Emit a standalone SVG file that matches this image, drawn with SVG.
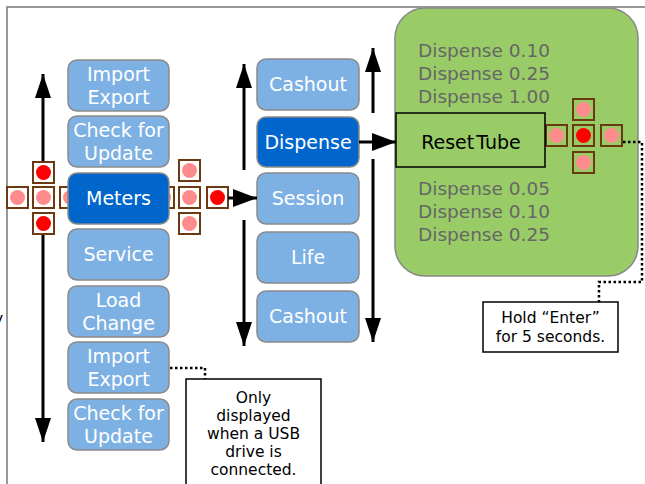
<svg xmlns="http://www.w3.org/2000/svg" width="645" height="484" viewBox="0 0 645 484">
<defs>
<style>
.box{fill:#7EB1E3;stroke:#8A8A8A;stroke-width:1.5}
.sel{fill:#0066CC;stroke:#8A8A8A;stroke-width:1.5}
.bt{font-family:"DejaVu Sans",sans-serif;font-size:19px;fill:#FFFFFF;text-anchor:middle}
.gt{font-family:"DejaVu Sans",sans-serif;font-size:18.5px;fill:#666666}
.nt{font-family:"DejaVu Sans",sans-serif;font-size:15.5px;fill:#000000;text-anchor:middle}
.sq{fill:none;stroke:#6B3A12;stroke-width:2}
.pk{fill:#FF8C8C}
.rd{fill:#FF0000}
.arr{stroke:#000;stroke-width:3;fill:none}
.dot{stroke:#000;stroke-width:2.5;fill:none;stroke-dasharray:2.5,2.5}
</style>
<marker id="ah" viewBox="0 0 24 16" refX="24" refY="8" markerWidth="24" markerHeight="16" markerUnits="userSpaceOnUse" orient="auto">
<path d="M0,0 L24,8 L0,16 z" fill="#000"/>
</marker>
<marker id="ahh" viewBox="0 0 24 18" refX="24" refY="9" markerWidth="24" markerHeight="18" markerUnits="userSpaceOnUse" orient="auto">
<path d="M0,0 L24,9 L0,18 z" fill="#000"/>
</marker>
</defs>
<rect width="645" height="484" fill="#FFFFFF"/>
<path d="M7,484 L7,7 L645,7" fill="none" stroke="#777" stroke-width="1.5"/>
<text x="-6" y="324" font-family="DejaVu Sans,sans-serif" font-size="15.5px" fill="#000">y</text>

<g id="reset-panel">
<rect x="395" y="8" width="243" height="268" rx="30" fill="#99CC66" stroke="#888" stroke-width="1.5"/>
<text class="gt" x="418" y="57">Dispense 0.10</text>
<text class="gt" x="418" y="80">Dispense 0.25</text>
<text class="gt" x="418" y="103">Dispense 1.00</text>
<text class="gt" x="418" y="195">Dispense 0.05</text>
<text class="gt" x="418" y="218">Dispense 0.10</text>
<text class="gt" x="418" y="241">Dispense 0.25</text>
</g>

<g id="dpad-left">
<rect class="sq" x="33" y="162" width="21" height="21"/><circle class="rd" cx="43.5" cy="172.5" r="7.5"/>
<rect class="sq" x="7" y="187" width="21" height="21"/><circle class="pk" cx="17.5" cy="197.5" r="7.5"/>
<rect class="sq" x="33" y="187" width="21" height="21"/><circle class="pk" cx="43.5" cy="197.5" r="7.5"/>
<rect class="sq" x="60" y="187" width="21" height="21"/><circle class="pk" cx="70.5" cy="197.5" r="7.5"/>
<rect class="sq" x="33" y="213" width="21" height="21"/><circle class="rd" cx="43.5" cy="223.5" r="7.5"/>
</g>

<g id="dpad-right">
<rect class="sq" x="179" y="160" width="21" height="21"/><circle class="pk" cx="189.5" cy="170.5" r="7.5"/>
<rect class="sq" x="153" y="187" width="21" height="21"/><circle class="pk" cx="163.5" cy="197.5" r="7.5"/>
<rect class="sq" x="179" y="187" width="21" height="21"/><circle class="pk" cx="189.5" cy="197.5" r="7.5"/>
<rect class="sq" x="207" y="187" width="21" height="21"/><circle class="rd" cx="217.5" cy="197.5" r="7.5"/>
<rect class="sq" x="179" y="213" width="21" height="21"/><circle class="pk" cx="189.5" cy="223.5" r="7.5"/>
</g>

<g id="dpad-green">
<rect class="sq" x="573" y="99" width="21" height="21"/><circle class="pk" cx="583.5" cy="109.5" r="7.5"/>
<rect class="sq" x="546" y="125" width="21" height="21"/><circle class="pk" cx="556.5" cy="135.5" r="7.5"/>
<rect class="sq" x="573" y="125" width="21" height="21"/><circle class="rd" cx="583.5" cy="135.5" r="7.5"/>
<rect class="sq" x="601" y="125" width="21" height="21"/><circle class="pk" cx="611.5" cy="135.5" r="7.5"/>
<rect class="sq" x="573" y="152" width="21" height="21"/><circle class="pk" cx="583.5" cy="162.5" r="7.5"/>
</g>

<g id="left-import-export"><rect class="box" x="68" y="60" width="101" height="51" rx="9"/><text class="bt" x="118.5" y="81">Import</text><text class="bt" x="118.5" y="104">Export</text></g>
<g id="left-check-update"><rect class="box" x="68" y="116" width="101" height="51" rx="9"/><text class="bt" x="118.5" y="137">Check for</text><text class="bt" x="118.5" y="160">Update</text></g>
<g id="meters"><rect class="sel" x="68" y="173" width="101" height="51" rx="9"/><text class="bt" x="118.5" y="205">Meters</text></g>
<g id="service"><rect class="box" x="68" y="229" width="101" height="51" rx="9"/><text class="bt" x="118.5" y="261">Service</text></g>
<g id="load-change"><rect class="box" x="68" y="286" width="101" height="51" rx="9"/><text class="bt" x="118.5" y="307">Load</text><text class="bt" x="118.5" y="330">Change</text></g>
<g id="left-import-export-2"><rect class="box" x="68" y="342" width="101" height="51" rx="9"/><text class="bt" x="118.5" y="363">Import</text><text class="bt" x="118.5" y="386">Export</text></g>
<g id="left-check-update-2"><rect class="box" x="68" y="399" width="101" height="51" rx="9"/><text class="bt" x="118.5" y="420">Check for</text><text class="bt" x="118.5" y="443">Update</text></g>

<g id="cashout-1"><rect class="box" x="257" y="59" width="102" height="51" rx="9"/><text class="bt" x="308" y="91">Cashout</text></g>
<g id="dispense"><rect class="sel" x="257" y="117" width="102" height="50" rx="9"/><text class="bt" x="308" y="149">Dispense</text></g>
<g id="session"><rect class="box" x="257" y="173" width="102" height="51" rx="9"/><text class="bt" x="308" y="205">Session</text></g>
<g id="life"><rect class="box" x="257" y="232" width="102" height="51" rx="9"/><text class="bt" x="308" y="264">Life</text></g>
<g id="cashout-2"><rect class="box" x="257" y="291" width="102" height="51" rx="9"/><text class="bt" x="308" y="323">Cashout</text></g>

<g id="reset-tube"><rect x="396" y="113" width="149" height="54" fill="#99CC66" stroke="#000" stroke-width="1.5"/><text x="471" y="149" font-family="DejaVu Sans,sans-serif" font-size="19px" fill="#000" text-anchor="middle" word-spacing="-4">Reset Tube</text></g>

<g id="note-usb"><rect x="186" y="379" width="135" height="110" fill="#FFF" stroke="#000" stroke-width="1.5"/>
<text class="nt" x="253.5" y="403">Only</text><text class="nt" x="253.5" y="421">displayed</text><text class="nt" x="253.5" y="439">when a USB</text><text class="nt" x="253.5" y="457">drive is</text><text class="nt" x="253.5" y="475">connected.</text></g>

<g id="note-hold"><rect x="483" y="302" width="135" height="50" fill="#FFF" stroke="#000" stroke-width="1.5"/>
<text class="nt" x="550.5" y="323" font-size="15px">Hold “Enter”</text><text class="nt" x="550.5" y="342" font-size="15px">for 5 seconds.</text></g>

<g id="connectors">
<line class="arr" x1="43" y1="161" x2="43" y2="74" marker-end="url(#ah)"/>
<line class="arr" x1="43" y1="235" x2="43" y2="442" marker-end="url(#ah)"/>
<line class="arr" x1="244" y1="170" x2="244" y2="64" marker-end="url(#ah)"/>
<line class="arr" x1="244" y1="220" x2="244" y2="346" marker-end="url(#ah)"/>
<line class="arr" x1="373" y1="113" x2="373" y2="48" marker-end="url(#ah)"/>
<line class="arr" x1="373" y1="159" x2="373" y2="342" marker-end="url(#ah)"/>
<line class="arr" x1="228" y1="198" x2="257" y2="198" marker-end="url(#ahh)"/>
<line class="arr" x1="359" y1="142" x2="396" y2="142" marker-end="url(#ahh)"/>
<path class="dot" d="M170,368 L205,368 L205,379"/>
<path class="dot" d="M623,142 L642,142 L642,282 L599,282 L599,302"/>
</g>
</svg>
